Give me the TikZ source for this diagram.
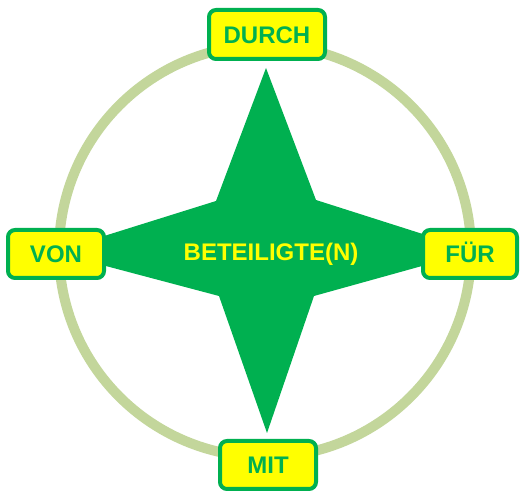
\documentclass[tikz,border=0pt]{standalone}
\usepackage{fontspec}
\setmainfont{Liberation Sans}
\definecolor{ringgreen}{HTML}{C3D69B}
\definecolor{stargreen}{HTML}{00B050}
\definecolor{boxyellow}{HTML}{FFFF00}
\begin{document}
\begin{tikzpicture}[x=1pt,y=-1pt,
  labelfont/.style={font=\fontsize{24}{28}\selectfont\bfseries},
  labelbox/.style={draw=stargreen, line width=4pt, fill=boxyellow,
    rounded corners=7pt, text=stargreen, labelfont, inner sep=0pt,
    text height=17.3pt, text depth=0pt, anchor=center},
  centrelabel/.style={text=boxyellow, labelfont, inner sep=0pt}]
\useasboundingbox (0,0) rectangle (528,502);
% ring
\draw[ringgreen, line width=10pt] (265,251) circle (206pt);
% star
\fill[stargreen] (266,68) -- (316,200) -- (476,251) -- (314,296) -- (267,433)
  -- (219,296) -- (53,252) -- (216,201) -- cycle;
% centre text
\node[centrelabel] (centre) at (271,254) {BETEILIGTE(N)};
% boxes
\node[labelbox, minimum width=116pt, minimum height=49pt] (durch) at (267,34.5) {DURCH};
\node[labelbox, minimum width=96pt, minimum height=48pt] (von) at (56,254) {VON};
\node[labelbox, minimum width=94pt, minimum height=48pt] (fuer) at (470,254) {FÜR};
\node[labelbox, minimum width=96pt, minimum height=48pt] (mit) at (268,465) {MIT};
\end{tikzpicture}
\end{document}
